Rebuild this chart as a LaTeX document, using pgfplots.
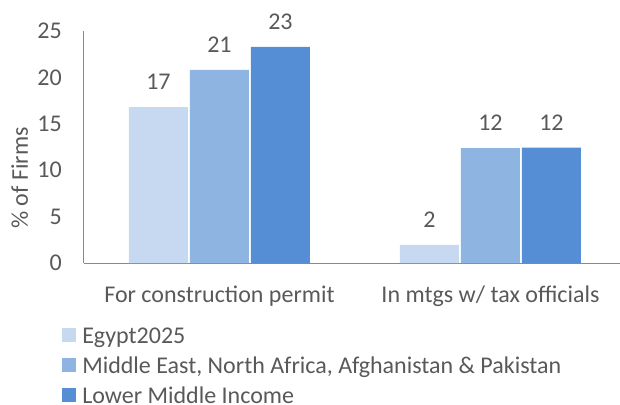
\documentclass[border=0pt]{standalone}
\usepackage{pgfplots}
\pgfplotsset{compat=1.18}
\usepackage{fontspec}
\setmainfont{Carlito}
\definecolor{txt}{HTML}{595959}
\definecolor{axl}{HTML}{898989}
\definecolor{cA}{HTML}{C6D9F0}
\definecolor{cB}{HTML}{8EB4E2}
\definecolor{cC}{HTML}{558ED5}
\newcommand{\cf}{\fontsize{18}{21}\selectfont}
\pgfplotsset{sqleg/.style={legend image code/.code={%
  \fill[##1] (0pt,0pt) rectangle (10.5pt,10.5pt); \path (15pt,0pt);}}}
\begin{document}
\begin{tikzpicture}
\begin{axis}[
  scale only axis, width=402pt, height=174pt,
  xmin=-0.5, xmax=1.478, ymin=0, ymax=25,
  ybar=1.5pt, bar width=44.25pt,
  axis lines=left, axis line style={axl, line width=0.75pt, -},
  xtick={0,1},
  xticklabels={For construction permit, In mtgs w/ tax officials},
  ytick={0,5,...,25},
  major tick length=0pt,
  /pgf/number format/assume math mode=true,
  tick label style={font=\cf, text=txt, inner sep=0pt},
  yticklabel style={anchor=east, xshift=-16.5pt},
  xticklabel style={anchor=base, yshift=-29.25pt},
  ylabel={\% of Firms},
  ylabel style={at={(axis description cs:-0.1045,0.366)}, anchor=base,
    font=\cf, text=txt, inner sep=0pt},
  nodes near coords={\pgfmathprintnumber[fixed,precision=0]{\pgfplotspointmeta}},
  every node near coord/.append style={anchor=base, yshift=13.1pt,
    inner sep=0pt, font=\cf, text=txt},
  legend cell align=left,
  legend style={at={(axis description cs:0,0)}, anchor=north west,
    xshift=-16.5pt, yshift=-47.5pt, draw=none, fill=none, inner sep=0pt,
    row sep=0pt, column sep=0pt,
    nodes={inner sep=0pt, text height=12.5pt, text depth=10pt,
      font=\cf, text=txt}},
]
\addplot[draw=none, fill=cA, sqleg] coordinates {(0,16.8) (1,1.95)};
\addlegendentry{Egypt2025}
\addplot[draw=none, fill=cB, sqleg] coordinates {(0,20.8) (1,12.37)};
\addlegendentry{Middle East, North Africa, Afghanistan \& Pakistan}
\addplot[draw=none, fill=cC, sqleg] coordinates {(0,23.3) (1,12.43)};
\addlegendentry{Lower Middle Income}
\end{axis}
\pgfresetboundingbox
\useasboundingbox (-63pt,-105.75pt) rectangle (402pt,197.25pt);
\end{tikzpicture}
\end{document}
